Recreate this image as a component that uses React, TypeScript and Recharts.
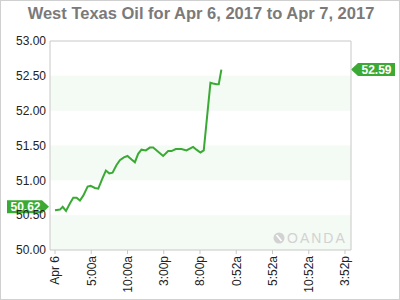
import React from "react";
import {
  LineChart,
  Line,
  XAxis,
  YAxis,
  ReferenceArea,
  ReferenceLine,
} from "recharts";

// hours since Apr 6 00:00 (axis units)
const hours = [
  0, 0.69, 1.06, 1.52, 2.07, 2.52, 2.98, 3.44, 3.9, 4.5, 4.91, 5.51, 5.97,
  6.56, 7.02, 7.48, 7.94, 8.49, 8.95, 9.5, 10.0, 10.56, 11.02, 11.47, 11.93,
  12.53, 13.08, 13.54, 14.23, 14.92, 15.61, 16.07, 16.66, 17.44, 18.14, 19.05,
  19.51, 20.06, 20.52, 21.44, 21.81, 22.27, 22.59, 22.95,
];

const prices = [
  50.57, 50.58, 50.62, 50.56, 50.67, 50.75, 50.75, 50.71, 50.78, 50.91, 50.92,
  50.89, 50.88, 51.03, 51.14, 51.1, 51.11, 51.22, 51.29, 51.33, 51.35, 51.3,
  51.26, 51.38, 51.44, 51.43, 51.47, 51.47, 51.41, 51.35, 51.42, 51.42, 51.45,
  51.45, 51.43, 51.48, 51.44, 51.4, 51.43, 52.4, 52.39, 52.38, 52.38, 52.59,
];

const xTicks = [0, 5, 10, 15, 20, 25, 30, 35, 40];
const xTickLabels = [
  "Apr 6",
  "5:00a",
  "10:00a",
  "3:00p",
  "8:00p",
  "0:52a",
  "5:52a",
  "10:52a",
  "3:52p",
];
const yTicks = [50, 50.5, 51, 51.5, 52, 52.5, 53];
const bands = [
  [50, 50.5],
  [51, 51.5],
  [52, 52.5],
];
const openPrice = 50.62;
const lastPrice = 52.59;

const data = hours.map((h, i) => ({ h, price: prices[i] }));

const FONT = "'Liberation Sans', Arial, sans-serif";
const GREEN = "#3aaa35";
const FRAME = "#c8c8c8";

const XTick = ({ x, y, payload }: any) => {
  const idx = xTicks.indexOf(payload.value);
  return (
    <g transform={`translate(${x},${y})`}>
      <text
        transform="rotate(-90)"
        textAnchor="end"
        dy="0.36em"
        fontSize={12}
        fontFamily={FONT}
        fill="#222"
      >
        {xTickLabels[idx]}
      </text>
    </g>
  );
};

const PriceTag = ({ viewBox, text, side }: any) => {
  if (!viewBox) return null;
  const { x, y, width } = viewBox;
  const h = 13;
  if (side === "left") {
    const tip = x - 1;
    const bx = tip - 42;
    const ax = tip - 7;
    return (
      <g>
        <path
          d={`M${bx},${y - h / 2} L${ax},${y - h / 2} L${tip},${y} L${ax},${y + h / 2} L${bx},${y + h / 2} Z`}
          fill={GREEN}
        />
        <text
          x={(bx + ax) / 2 + 1}
          y={y}
          dy="0.36em"
          textAnchor="middle"
          fontSize={12}
          fontWeight="bold"
          fontFamily={FONT}
          fill="#fff"
        >
          {text}
        </text>
      </g>
    );
  }
  const tip = x + width;
  const ax = tip + 7;
  const bx = tip + 44;
  return (
    <g>
      <path
        d={`M${tip},${y} L${ax},${y - h / 2} L${bx},${y - h / 2} L${bx},${y + h / 2} L${ax},${y + h / 2} Z`}
        fill={GREEN}
      />
      <text
        x={(bx + ax) / 2}
        y={y}
        dy="0.36em"
        textAnchor="middle"
        fontSize={12}
        fontWeight="bold"
        fontFamily={FONT}
        fill="#fff"
      >
        {text}
      </text>
    </g>
  );
};

export default function App() {
  return (
    <div
      style={{
        position: "absolute",
        left: 0,
        top: 0,
        width: 400,
        height: 300,
        border: "1px solid #d0d0d0",
        boxSizing: "border-box",
        background: "#fff",
      }}
    >
      <div
        style={{
          position: "absolute",
          left: 0,
          top: 3,
          width: 400,
          textAlign: "center",
          fontFamily: FONT,
          fontWeight: "bold",
          fontSize: 16.5,
          color: "#7a7a7a",
          whiteSpace: "nowrap",
        }}
      >
        West Texas Oil for Apr 6, 2017 to Apr 7, 2017
      </div>
      <div style={{ position: "absolute", left: -1, top: -1 }}>
        <LineChart
          width={400}
          height={300}
          data={data}
          margin={{ top: 41, right: 0, left: 0, bottom: 0 }}
        >
          {bands.map(([y1, y2], i) => (
            <ReferenceArea
              key={`band-${i}`}
              y1={y1}
              y2={y2}
              yAxisId="left"
              fill="#f4faf4"
              fillOpacity={1}
              stroke="none"
            />
          ))}
          <ReferenceLine y={53} yAxisId="left" stroke={FRAME} />
          <XAxis
            dataKey="h"
            type="number"
            domain={[-0.69, 40.83]}
            ticks={xTicks}
            height={50}
            interval={0}
            axisLine={{ stroke: FRAME }}
            tickLine={{ stroke: FRAME }}
            tickSize={4}
            tickMargin={2}
            tick={<XTick />}
            allowDataOverflow
          />
          <YAxis
            yAxisId="left"
            orientation="left"
            domain={[50, 53]}
            ticks={yTicks}
            width={50}
            axisLine={{ stroke: FRAME }}
            tickLine={false}
            tickSize={4}
            tickMargin={0}
            tickFormatter={(v: number) => v.toFixed(2)}
            tick={{ fontSize: 12, fontFamily: FONT, fill: "#222" }}
          />
          <YAxis
            yAxisId="right"
            orientation="right"
            domain={[50, 53]}
            ticks={yTicks}
            width={49}
            axisLine={{ stroke: FRAME }}
            tickLine={{ stroke: FRAME }}
            tickSize={4}
            tickMargin={1}
            tickFormatter={(v: number) => v.toFixed(2)}
            tick={{ fontSize: 12, fontFamily: FONT, fill: "#222", textAnchor: "start" }}
          />
          <Line
            yAxisId="left"
            type="linear"
            dataKey="price"
            stroke={GREEN}
            strokeWidth={2}
            dot={false}
            activeDot={false}
            isAnimationActive={false}
          />
          <ReferenceLine
            y={openPrice}
            yAxisId="left"
            stroke="none"
            label={<PriceTag side="left" text={openPrice.toFixed(2)} />}
          />
          <ReferenceLine
            y={lastPrice}
            yAxisId="left"
            stroke="none"
            label={<PriceTag side="right" text={lastPrice.toFixed(2)} />}
          />
        </LineChart>
      </div>
      <div
        style={{
          position: "absolute",
          left: 272,
          top: 229,
          display: "flex",
          alignItems: "center",
          color: "#d2d2d2",
          fontFamily: FONT,
          fontSize: 14,
          letterSpacing: 2,
        }}
      >
        <svg width={12} height={12} style={{ marginRight: 2 }}>
          <circle cx={6} cy={6} r={5.5} fill="#d2d2d2" />
          <path d="M3.5,3 L8.5,9" stroke="#fff" strokeWidth={1.6} />
        </svg>
        OANDA
      </div>
    </div>
  );
}
